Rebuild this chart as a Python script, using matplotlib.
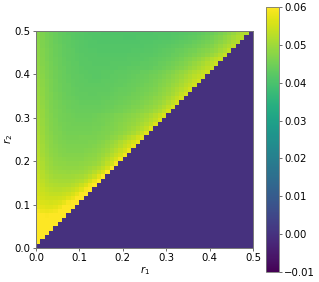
import numpy as np
import matplotlib
matplotlib.use('Agg')
import matplotlib.pyplot as plt

# colour values, in units of 0.0001
# one list per row, from r2 = 0 upward; cells right of the list are zero
rows = [
    [],
    [620],
    [625, 630],
    [625, 628, 632],
    [620, 622, 626, 632],
    [615, 616, 620, 626, 634],
    [610, 608, 610, 616, 624, 634],
    [604, 598, 596, 598, 604, 616, 632],
    [590, 582, 580, 582, 588, 600, 616, 630],
    [578, 570, 566, 567, 572, 582, 598, 616, 630],
    [566, 560, 557, 556, 558, 563, 574, 590, 608, 628],
    [560, 552, 548, 546, 546, 549, 555, 565, 580, 600, 625],
    [555, 546, 540, 537, 536, 537, 540, 547, 558, 575, 597, 622],
    [552, 541, 533, 528, 526, 525, 527, 531, 538, 550, 567, 590, 618],
    [550, 536, 526, 520, 516, 515, 515, 517, 522, 530, 543, 561, 585, 615],
    [545, 530, 519, 512, 508, 506, 505, 506, 509, 513, 520, 533, 552, 578, 610],
    [541, 525, 513, 506, 501, 499, 498, 498, 499, 502, 507, 515, 527, 545, 570, 605],
    [537, 521, 508, 500, 495, 492, 491, 490, 491, 493, 496, 501, 509, 521, 538, 562, 600],
    [534, 517, 504, 495, 490, 487, 485, 484, 484, 485, 487, 491, 497, 505, 516, 532, 555, 595],
    [531, 513, 500, 491, 485, 482, 480, 479, 478, 479, 480, 483, 487, 493, 501, 514, 532, 553, 588],
    [528, 510, 497, 488, 482, 478, 475, 474, 473, 473, 474, 477, 480, 485, 493, 505, 520, 538, 558, 585],
    [525, 507, 494, 485, 478, 474, 471, 470, 469, 469, 470, 472, 475, 479, 486, 495, 507, 522, 538, 556, 582],
    [522, 504, 491, 482, 475, 471, 468, 466, 465, 465, 466, 467, 469, 473, 479, 486, 496, 508, 522, 538, 556, 580],
    [519, 502, 488, 479, 472, 468, 465, 463, 462, 462, 462, 463, 465, 468, 473, 479, 487, 497, 509, 523, 539, 556, 578],
    [516, 500, 486, 477, 470, 465, 462, 460, 459, 459, 459, 460, 461, 463, 468, 474, 481, 490, 501, 513, 527, 542, 557, 575],
    [513, 498, 484, 475, 468, 463, 459, 457, 456, 456, 458, 458, 458, 459, 461, 465, 470, 477, 485, 495, 505, 518, 534, 552, 572],
    [511, 496, 482, 473, 466, 461, 457, 455, 453, 453, 453, 453, 454, 456, 458, 461, 465, 470, 475, 481, 488, 497, 509, 523, 540, 568],
    [509, 494, 481, 471, 464, 459, 455, 452, 451, 450, 450, 450, 451, 453, 455, 458, 462, 466, 471, 476, 482, 489, 498, 508, 520, 536, 565],
    [507, 492, 479, 470, 462, 457, 453, 450, 449, 448, 448, 448, 449, 450, 452, 455, 459, 463, 467, 472, 477, 483, 490, 498, 508, 520, 535, 562],
    [505, 491, 478, 468, 461, 455, 451, 449, 447, 446, 445, 445, 446, 448, 450, 453, 456, 460, 464, 468, 473, 478, 484, 491, 498, 508, 521, 536, 559],
    [503, 489, 476, 467, 459, 454, 450, 447, 445, 444, 443, 443, 444, 445, 447, 450, 453, 457, 461, 466, 470, 474, 479, 484, 491, 500, 512, 525, 540, 558],
    [501, 488, 475, 465, 458, 453, 449, 445, 443, 441, 440, 439, 439, 440, 441, 443, 445, 448, 451, 454, 458, 462, 467, 472, 478, 484, 492, 502, 515, 532, 556],
    [499, 486, 474, 464, 457, 451, 447, 443, 441, 439, 437, 437, 437, 437, 438, 440, 442, 444, 447, 450, 453, 457, 461, 466, 471, 477, 484, 492, 503, 516, 533, 555],
    [497, 485, 472, 463, 456, 450, 445, 442, 439, 437, 435, 435, 434, 434, 435, 437, 439, 441, 443, 446, 449, 452, 456, 460, 465, 470, 476, 484, 493, 504, 517, 534, 554],
    [495, 483, 471, 462, 454, 449, 444, 440, 437, 435, 433, 433, 432, 432, 433, 434, 435, 437, 439, 442, 445, 448, 451, 455, 459, 464, 470, 477, 485, 494, 505, 518, 535, 553],
    [493, 482, 470, 461, 453, 447, 442, 438, 435, 433, 431, 431, 430, 430, 431, 432, 433, 435, 437, 439, 441, 444, 447, 451, 455, 459, 464, 471, 478, 487, 496, 507, 520, 535, 552],
    [491, 480, 469, 460, 452, 446, 441, 437, 434, 432, 430, 429, 428, 428, 428, 429, 430, 432, 434, 436, 438, 441, 444, 447, 450, 454, 459, 465, 472, 480, 489, 499, 510, 522, 536, 551],
    [490, 479, 468, 459, 451, 445, 440, 436, 433, 430, 428, 427, 426, 426, 426, 427, 428, 430, 431, 433, 435, 437, 440, 443, 446, 450, 455, 460, 467, 474, 482, 491, 501, 512, 524, 537, 550],
    [488, 477, 467, 458, 450, 444, 439, 435, 431, 429, 427, 425, 424, 424, 424, 425, 426, 427, 429, 431, 433, 435, 437, 440, 443, 446, 451, 456, 462, 469, 476, 484, 493, 503, 514, 526, 538, 549],
    [486, 476, 465, 457, 449, 443, 438, 434, 430, 428, 425, 424, 423, 422, 422, 423, 424, 425, 427, 428, 430, 432, 434, 437, 440, 443, 447, 451, 456, 462, 469, 477, 486, 496, 507, 517, 527, 537, 546],
    [484, 474, 464, 456, 448, 442, 437, 433, 429, 427, 424, 423, 422, 422, 422, 423, 423, 424, 425, 426, 427, 429, 431, 433, 436, 438, 442, 446, 451, 456, 462, 469, 477, 486, 496, 506, 516, 526, 537, 546],
    [483, 472, 462, 454, 447, 441, 436, 432, 428, 426, 423, 422, 421, 420, 420, 421, 421, 422, 422, 423, 424, 425, 427, 428, 429, 430, 433, 437, 441, 446, 451, 457, 464, 471, 479, 488, 498, 508, 519, 531, 544],
    [481, 471, 461, 453, 446, 440, 435, 431, 427, 425, 422, 421, 420, 419, 419, 419, 419, 420, 420, 421, 421, 422, 423, 424, 425, 426, 429, 432, 436, 440, 445, 450, 456, 463, 471, 479, 488, 498, 508, 519, 530, 543],
    [480, 469, 460, 452, 445, 439, 434, 430, 426, 424, 421, 420, 419, 418, 418, 418, 418, 418, 418, 419, 419, 420, 420, 421, 422, 423, 425, 428, 431, 434, 438, 443, 448, 454, 461, 468, 476, 485, 495, 506, 518, 530, 542],
    [479, 468, 459, 451, 444, 438, 433, 429, 425, 423, 420, 419, 418, 417, 416, 416, 416, 416, 416, 416, 416, 417, 418, 419, 420, 420, 422, 424, 427, 430, 433, 437, 441, 446, 451, 457, 463, 469, 476, 484, 494, 506, 520, 538],
    [478, 467, 458, 450, 443, 437, 432, 428, 425, 422, 419, 418, 416, 415, 414, 414, 414, 414, 414, 414, 414, 414, 415, 415, 416, 417, 419, 421, 423, 426, 429, 432, 436, 440, 445, 450, 455, 461, 467, 473, 480, 490, 502, 515, 533],
    [477, 466, 457, 449, 442, 436, 431, 427, 424, 421, 418, 416, 414, 413, 412, 412, 412, 412, 412, 412, 412, 412, 413, 413, 414, 415, 416, 418, 420, 422, 424, 427, 430, 433, 437, 441, 446, 451, 457, 463, 470, 480, 491, 503, 515, 530],
    [476, 465, 456, 448, 441, 435, 430, 426, 423, 420, 417, 415, 413, 412, 411, 410, 410, 410, 410, 410, 410, 410, 411, 411, 412, 413, 414, 415, 416, 417, 419, 421, 423, 426, 429, 433, 437, 442, 447, 453, 460, 469, 479, 490, 501, 513, 526],
    [474, 464, 455, 447, 440, 434, 429, 425, 422, 419, 416, 414, 412, 411, 410, 409, 409, 409, 409, 409, 408, 408, 408, 409, 409, 410, 410, 411, 412, 413, 414, 416, 418, 420, 423, 426, 430, 435, 440, 446, 453, 461, 470, 480, 491, 503, 514, 524],
    [472, 463, 454, 446, 439, 433, 428, 424, 421, 418, 415, 413, 411, 410, 409, 408, 408, 408, 407, 407, 407, 407, 407, 408, 408, 408, 408, 409, 409, 410, 411, 412, 413, 415, 417, 420, 423, 427, 432, 437, 443, 450, 458, 467, 478, 490, 503, 514, 520],
    ]
x_ticks = [0.0, 0.1, 0.2, 0.3, 0.4, 0.5]
cbar_ticks = [-0.01, 0.0, 0.01, 0.02, 0.03, 0.04, 0.05, 0.06]

W, H = 319, 282
FONT = 7.3
SPINE = '#777777'

for i, r in enumerate(rows):
    if len(r) != i:
        raise ValueError("row {} has {} cells".format(i, len(r)))

grid = np.zeros((50, 50))
for i, r in enumerate(rows):
    grid[i, :len(r)] = np.array(r) / 10000.0

fig = plt.figure(figsize=(W / 100, H / 100), dpi=100)
ax = fig.add_axes([36 / W, 1 - 248 / H, 217 / W, 217 / H])
im = ax.imshow(grid, origin='lower', extent=[0, 0.5, 0, 0.5], cmap='viridis',
               vmin=-0.01, vmax=0.06, interpolation='nearest', aspect='auto')
ax.set_xticks(x_ticks)
ax.set_yticks(x_ticks)
ax.tick_params(labelsize=FONT, length=2.2, width=0.5, pad=1.5, color='#333333')
ax.set_xlabel(r'$r_1$', fontsize=FONT, labelpad=1)
ax.set_ylabel(r'$r_2$', fontsize=FONT, labelpad=0)
for s in ax.spines.values():
    s.set_linewidth(0.7)
    s.set_color(SPINE)

cax = fig.add_axes([266 / W, 1 - 272 / H, 13 / W, 265 / H])
cb = fig.colorbar(im, cax=cax, ticks=cbar_ticks)
cb.ax.set_yticklabels(['\u22120.01', '0.00', '0.01', '0.02', '0.03', '0.04', '0.05', '0.06'])
cb.ax.tick_params(labelsize=FONT, length=2.2, width=0.5, pad=1.5, color='#333333')
cb.outline.set_linewidth(0.6)
cb.outline.set_edgecolor(SPINE)

fig.savefig('out.png', dpi=100)
